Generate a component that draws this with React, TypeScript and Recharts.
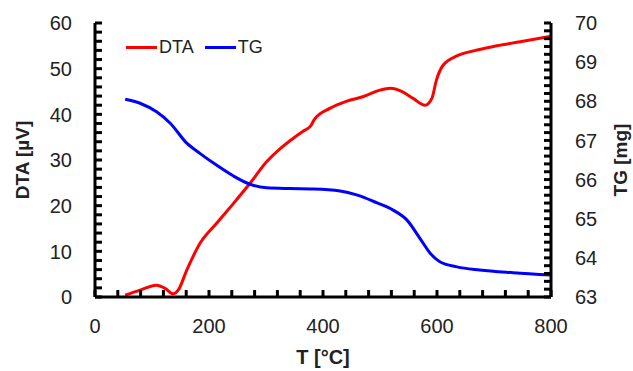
import React from 'react';
import { LineChart, Line, XAxis, YAxis, Legend } from 'recharts';

const FONT = '"Liberation Sans", Arial, sans-serif';

// DTA curve (T in °C, signal in µV)
const dtaTemp = [53, 79, 108, 123, 137, 146, 161, 184, 213, 243, 272, 301, 325, 345, 365, 378, 385, 412, 442, 471, 500, 518, 535, 558, 579, 591, 599, 611, 635, 664, 705, 746, 800];
const dtaValues = [0.4, 1.5, 2.6, 1.9, 0.7, 1.5, 5.9, 11.7, 16.1, 20.5, 24.9, 29.6, 32.5, 34.5, 36.3, 37.4, 38.9, 41.3, 42.9, 43.9, 45.3, 45.7, 45.2, 43.5, 42.0, 43.5, 47.5, 50.8, 52.8, 53.9, 55.0, 55.9, 57.1];

// TG curve (T in °C, mass in mg)
const tgTemp = [53, 79, 108, 132, 161, 184, 213, 243, 272, 301, 342, 383, 430, 459, 494, 523, 547, 570, 588, 605, 635, 675, 734, 800];
const tgValues = [68.05, 67.95, 67.73, 67.44, 66.93, 66.67, 66.37, 66.09, 65.88, 65.79, 65.77, 65.76, 65.71, 65.61, 65.41, 65.22, 64.97, 64.5, 64.12, 63.9, 63.77, 63.69, 63.62, 63.56];

// ticks (all tick marks) and labelled ones
const xTicks = [0, 40, 80, 120, 160, 200, 240, 280, 320, 360, 400, 440, 480, 520, 560, 600, 640, 680, 720, 760, 800];
const xLabels = [0, 200, 400, 600, 800];
const dtaTicks = [0, 2, 4, 6, 8, 10, 12, 14, 16, 18, 20, 22, 24, 26, 28, 30, 32, 34, 36, 38, 40, 42, 44, 46, 48, 50, 52, 54, 56, 58, 60];
const dtaLabels = [0, 10, 20, 30, 40, 50, 60];
const tgTicks = [63, 63.2, 63.4, 63.6, 63.8, 64, 64.2, 64.4, 64.6, 64.8, 65, 65.2, 65.4, 65.6, 65.8, 66, 66.2, 66.4, 66.6, 66.8, 67, 67.2, 67.4, 67.6, 67.8, 68, 68.2, 68.4, 68.6, 68.8, 69, 69.2, 69.4, 69.6, 69.8, 70];
const tgLabels = [63, 64, 65, 66, 67, 68, 69, 70];

const dtaData = dtaTemp.map((t, i) => ({ t, dta: dtaValues[i] }));
const tgData = tgTemp.map((t, i) => ({ t, tg: tgValues[i] }));

const TICK_LEN = 7;
const TICK_W = 3;

const XTick = (props: any) => {
  const { x, y, payload } = props;
  const major = xLabels.includes(payload.value);
  return (
    <g>
      <path d={`M${x},${y}v${-TICK_LEN}`} stroke="#000" strokeWidth={TICK_W} fill="none" />
      {major && (
        <text x={x} y={y + 36} textAnchor="middle" fontSize={20} fontFamily={FONT} fill="#222">
          {payload.value}
        </text>
      )}
    </g>
  );
};

const LeftTick = (props: any) => {
  const { x, y, payload } = props;
  const major = dtaLabels.includes(payload.value);
  return (
    <g>
      <path d={`M${x},${y}h${TICK_LEN}`} stroke="#000" strokeWidth={TICK_W} fill="none" />
      {major && (
        <text x={x - 23} y={y} dy="0.36em" textAnchor="end" fontSize={20} fontFamily={FONT} fill="#222">
          {payload.value}
        </text>
      )}
    </g>
  );
};

const RightTick = (props: any) => {
  const { x, y, payload } = props;
  const major = tgLabels.includes(payload.value);
  return (
    <g>
      <path d={`M${x},${y}h${-TICK_LEN}`} stroke="#000" strokeWidth={TICK_W} fill="none" />
      {major && (
        <text x={x + 24} y={y} dy="0.36em" textAnchor="start" fontSize={20} fontFamily={FONT} fill="#222">
          {payload.value}
        </text>
      )}
    </g>
  );
};

const renderLegend = (props: any) => {
  const { payload } = props;
  return (
    <div style={{ display: 'flex', alignItems: 'center', fontFamily: FONT, fontSize: 18, color: '#222' }}>
      {payload.map((entry: any, i: number) => (
        <div key={entry.value} style={{ display: 'flex', alignItems: 'center', marginLeft: i > 0 ? 11 : 0 }}>
          <span style={{ display: 'inline-block', width: 31, height: 3, background: entry.color, marginRight: 2 }} />
          <span>{entry.value}</span>
        </div>
      ))}
    </div>
  );
};

const axisStyle = { stroke: '#000', strokeWidth: 3 };

export default function App() {
  return (
    <div style={{ position: 'absolute', left: 0, top: 0 }}>
      <LineChart width={633} height={371} data={dtaData} margin={{ top: 23, right: 0, bottom: 0, left: 0 }}>
        <XAxis
          type="number"
          dataKey="t"
          domain={[0, 800]}
          ticks={xTicks}
          interval={0}
          height={74}
          tickSize={0}
          tickMargin={0}
          tickLine={false}
          tick={<XTick />}
          axisLine={axisStyle}
          label={{ value: 'T [°C]', position: 'center', dy: 23, fontSize: 20, fontWeight: 'bold', fontFamily: FONT, fill: '#222' }}
        />
        <YAxis
          yAxisId="left"
          type="number"
          domain={[0, 60]}
          ticks={dtaTicks}
          interval={0}
          width={95}
          tickSize={0}
          tickMargin={0}
          tickLine={false}
          tick={<LeftTick />}
          axisLine={axisStyle}
          label={{ value: 'DTA [µV]', angle: -90, position: 'center', dx: -25, fontSize: 19, fontWeight: 'bold', fontFamily: FONT, fill: '#222' }}
        />
        <YAxis
          yAxisId="right"
          orientation="right"
          type="number"
          domain={[63, 70]}
          ticks={tgTicks}
          interval={0}
          width={82}
          tickSize={0}
          tickMargin={0}
          tickLine={false}
          tick={<RightTick />}
          axisLine={axisStyle}
          label={{ value: 'TG [mg]', angle: -90, position: 'center', dx: 28, fontSize: 19, fontWeight: 'bold', fontFamily: FONT, fill: '#222' }}
        />
        <Legend
          layout="horizontal"
          verticalAlign="middle"
          align="center"
          content={renderLegend}
          wrapperStyle={{ left: 126, top: 37, width: 'auto' }}
        />
        <Line
          yAxisId="left"
          dataKey="dta"
          name="DTA"
          type="monotone"
          stroke="#ff0000"
          strokeWidth={3}
          dot={false}
          isAnimationActive={false}
        />
        <Line
          yAxisId="right"
          data={tgData}
          dataKey="tg"
          name="TG"
          type="monotone"
          stroke="#0000ff"
          strokeWidth={3}
          dot={false}
          isAnimationActive={false}
        />
      </LineChart>
    </div>
  );
}
